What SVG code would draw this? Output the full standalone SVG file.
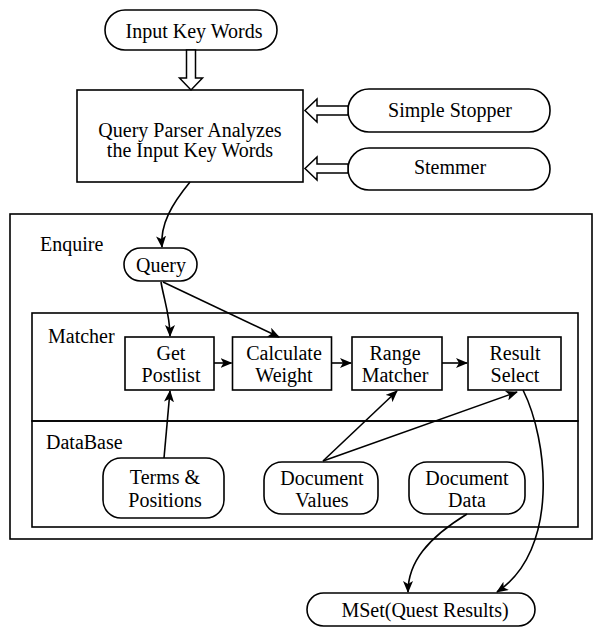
<svg xmlns="http://www.w3.org/2000/svg" width="594" height="629" viewBox="0 0 594 629">
  <defs>
    <marker id="arr" viewBox="0 0 12 10" refX="11" refY="5" markerWidth="12" markerHeight="10" markerUnits="userSpaceOnUse" orient="auto">
      <path d="M0,0 L12,5 L0,10 L3,5 Z" fill="#000"/>
    </marker>
  </defs>
  <style>
    .box { fill: #fff; stroke: #000; stroke-width: 1.6; }
    .frame { fill: none; stroke: #000; stroke-width: 1.6; }
    .hollow { fill: #fff; stroke: #000; stroke-width: 1.5; }
    text { font-family: 'Liberation Serif', 'Times New Roman', serif; font-size: 20px; fill: #000; }
    .t { text-anchor: middle; }
    .edge { fill: none; stroke: #000; stroke-width: 1.6; marker-end: url(#arr); }
  </style>

  <rect width="594" height="629" fill="#fff"/>

  <!-- containers -->
  <g id="enquire">
    <rect class="frame" x="10" y="214" width="582" height="325"/>
    <text x="40" y="251">Enquire</text>
  </g>
  <g id="matcher">
    <rect class="frame" x="32" y="313" width="546" height="108"/>
    <text x="48" y="343">Matcher</text>
  </g>
  <g id="database">
    <rect class="frame" x="32" y="421" width="546" height="106"/>
    <text x="46" y="449">DataBase</text>
  </g>

  <!-- nodes -->
  <g id="input-key-words">
    <rect class="box" x="105" y="10" width="172" height="40" rx="20"/>
    <text class="t" x="194" y="37.5">Input Key Words</text>
  </g>
  <g id="query-parser">
    <rect class="box" x="77" y="90" width="226" height="92"/>
    <text class="t" x="190" y="137">Query Parser Analyzes</text>
    <text class="t" x="190" y="157">the Input Key Words</text>
  </g>
  <g id="simple-stopper">
    <rect class="box" x="348" y="89" width="202" height="43" rx="21"/>
    <text class="t" x="450" y="117">Simple Stopper</text>
  </g>
  <g id="stemmer">
    <rect class="box" x="348" y="148" width="202" height="42" rx="21"/>
    <text class="t" x="450" y="173.5">Stemmer</text>
  </g>
  <g id="query">
    <rect class="box" x="124" y="248" width="73" height="33" rx="16.5"/>
    <text class="t" x="161" y="271.5">Query</text>
  </g>
  <g id="get-postlist">
    <rect class="box" x="125" y="337" width="89" height="53"/>
    <text class="t" x="171" y="359.5">Get</text>
    <text class="t" x="171" y="381.5">Postlist</text>
  </g>
  <g id="calculate-weight">
    <rect class="box" x="232.5" y="337" width="99" height="53"/>
    <text class="t" x="284" y="359.5">Calculate</text>
    <text class="t" x="284" y="381.5">Weight</text>
  </g>
  <g id="range-matcher">
    <rect class="box" x="352" y="337" width="90" height="53"/>
    <text class="t" x="395" y="359.5">Range</text>
    <text class="t" x="395" y="381.5">Matcher</text>
  </g>
  <g id="result-select">
    <rect class="box" x="468" y="337" width="93" height="53"/>
    <text class="t" x="515" y="359.5">Result</text>
    <text class="t" x="515" y="381.5">Select</text>
  </g>
  <g id="terms-positions">
    <rect class="box" x="103" y="458" width="121" height="60" rx="18"/>
    <text class="t" x="165" y="484">Terms &amp;</text>
    <text class="t" x="165" y="507">Positions</text>
  </g>
  <g id="document-values">
    <rect class="box" x="264" y="462" width="114" height="52" rx="18"/>
    <text class="t" x="322" y="485">Document</text>
    <text class="t" x="322" y="507">Values</text>
  </g>
  <g id="document-data">
    <rect class="box" x="409" y="462" width="116" height="52" rx="18"/>
    <text class="t" x="467" y="485">Document</text>
    <text class="t" x="467" y="507">Data</text>
  </g>
  <g id="mset">
    <rect class="box" x="307" y="593" width="228" height="33" rx="16.5"/>
    <text class="t" x="425" y="616.5">MSet(Quest Results)</text>
  </g>

  <!-- connectors -->
  <g id="connectors">
    <!-- hollow block arrows -->
    <path class="hollow" d="M186.5,50 V78 H179.5 L191,90 L202.5,78 H195.5 V50 Z"/>
    <path class="hollow" d="M348,106 H317 V99 L305,110.5 L317,122 V115 H348 Z"/>
    <path class="hollow" d="M348,164 H317 V157 L305,168.5 L317,180 V173 H348 Z"/>

    <path class="edge" d="M190,182 C172,204 160,224 162,247"/>
    <path class="edge" d="M161,282 C164,300 170,315 170,336"/>
    <path class="edge" d="M163,282 L279,337"/>
    <path class="edge" d="M214,363 L231.5,363"/>
    <path class="edge" d="M331.5,363 L351,363"/>
    <path class="edge" d="M442,363 L467,363"/>
    <path class="edge" d="M164,458 L170,391"/>
    <path class="edge" d="M323,461 L397,391"/>
    <path class="edge" d="M323,461 L517,392"/>
    <path class="edge" d="M523,390 C548,440 560,550 497,592"/>
    <path class="edge" d="M467,514 C428,538 408,562 408,592"/>
  </g>
</svg>
